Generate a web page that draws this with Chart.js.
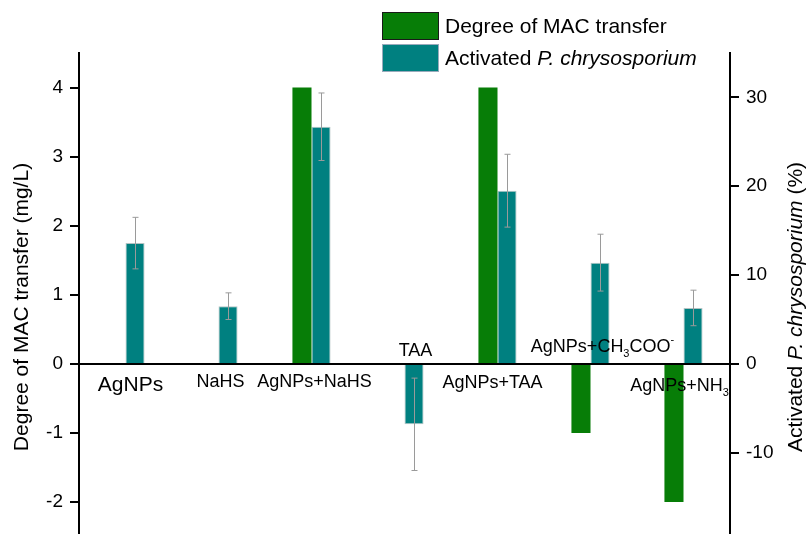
<!DOCTYPE html>
<html>
<head>
<meta charset="utf-8">
<script src="https://cdn.jsdelivr.net/npm/chart.js@4.4.1/dist/chart.umd.min.js"></script>
<style>
  html, body { margin: 0; padding: 0; background: #fff; overflow: hidden; }
  #wrap { width: 808px; height: 534px; overflow: hidden; }
</style>
</head>
<body>
<div id="wrap"><canvas id="myChart" width="808" height="555"></canvas></div>
<script>
// categories (_x = subscript, ^x = superscript)
const categories = ['AgNPs', 'NaHS', 'AgNPs+NaHS', 'TAA', 'AgNPs+TAA', 'AgNPs+CH_3COO^-', 'AgNPs+NH_3'];
// Degree of MAC transfer (mg/L), left axis
const macTransfer = [0, 0, 4.0, 0, 4.0, -1.0, -2.0];
// Activated P. chrysosporium (%), right axis
const activated = [13.6, 6.5, 26.7, -6.8, 19.5, 11.4, 6.3];
const activatedErr = [2.9, 1.5, 3.8, 5.2, 4.1, 3.2, 2.0];
const leftTicks = [-2, -1, 0, 1, 2, 3, 4];
const rightTicks = [-10, 0, 10, 20, 30];

const FONT = '"Liberation Sans", Arial, sans-serif';
const green = '#077d07';
const teal = '#008080';

// where each category label sits relative to its group (px) : above/below zero line
const labelPlace = [
  { dx: 5, dy: 21, size: 21 },
  { dx: 2, dy: 18, size: 18 },
  { dx: 3, dy: 18, size: 18 },
  { dx: 11, dy: -13, size: 18 },
  { dx: -5, dy: 19, size: 18 },
  { dx: 12, dy: -17, size: 18 },
  { dx: -4, dy: 22, size: 18 }
];

// split "CH_3COO^-" into runs
function parseRuns(str) {
  const runs = [];
  let i = 0, buf = '';
  while (i < str.length) {
    const c = str[i];
    if ((c === '_' || c === '^') && i + 1 < str.length) {
      if (buf) runs.push({ t: buf, k: 'n' });
      buf = '';
      runs.push({ t: str[i + 1], k: c === '_' ? 'sub' : 'sup' });
      i += 2;
    } else { buf += c; i++; }
  }
  if (buf) runs.push({ t: buf, k: 'n' });
  return runs;
}

function drawRich(ctx, str, cx, cy, size) {
  const runs = parseRuns(str);
  const small = Math.round(size * 0.6);
  let w = 0;
  runs.forEach(r => {
    ctx.font = (r.k === 'n' ? size : small) + 'px ' + FONT;
    r.w = ctx.measureText(r.t).width;
    w += r.w;
  });
  let x = cx - w / 2;
  ctx.textBaseline = 'middle';
  ctx.textAlign = 'left';
  runs.forEach(r => {
    ctx.font = (r.k === 'n' ? size : small) + 'px ' + FONT;
    let y = cy;
    if (r.k === 'sub') y = cy + size * 0.4;
    if (r.k === 'sup') y = cy - size * 0.4;
    ctx.fillText(r.t, x, y);
    x += r.w;
  });
}

// mixed normal / italic text
function drawParts(ctx, parts, x, y, size, align) {
  let w = 0;
  parts.forEach(p => {
    ctx.font = (p.i ? 'italic ' : '') + size + 'px ' + FONT;
    p.w = ctx.measureText(p.t).width;
    w += p.w;
  });
  let sx = align === 'center' ? x - w / 2 : x;
  ctx.textBaseline = 'middle';
  ctx.textAlign = 'left';
  parts.forEach(p => {
    ctx.font = (p.i ? 'italic ' : '') + size + 'px ' + FONT;
    ctx.fillText(p.t, sx, y);
    sx += p.w;
  });
}

const extras = {
  id: 'extras',
  afterDatasetsDraw(chart) {
    const ctx = chart.ctx;
    const xs = chart.scales.x;
    const y = chart.scales.y;
    const y1 = chart.scales.y1;
    const area = chart.chartArea;

    // error bars on the teal series
    const meta = chart.getDatasetMeta(1);
    ctx.save();
    ctx.strokeStyle = '#9a9a9a';
    ctx.lineWidth = 1;
    meta.data.forEach((bar, i) => {
      const v = activated[i], e = activatedErr[i];
      const top = y1.getPixelForValue(v + e);
      const bot = y1.getPixelForValue(v - e);
      const bx = Math.round(bar.x) + 0.5;
      ctx.beginPath();
      ctx.moveTo(bx, top); ctx.lineTo(bx, bot);
      ctx.moveTo(bx - 3, top); ctx.lineTo(bx + 3, top);
      ctx.moveTo(bx - 3, bot); ctx.lineTo(bx + 3, bot);
      ctx.stroke();
    });
    ctx.restore();

    // zero line
    const y0 = y.getPixelForValue(0);
    ctx.save();
    ctx.strokeStyle = '#000';
    ctx.lineWidth = 2;
    ctx.beginPath();
    ctx.moveTo(area.left, y0); ctx.lineTo(area.right, y0);
    ctx.stroke();

    // category labels
    ctx.fillStyle = '#000';
    categories.forEach((c, i) => {
      const p = labelPlace[i];
      drawRich(ctx, c, xs.getPixelForValue(i) + p.dx, y0 + p.dy, p.size);
    });

    // legend
    const lx = 382, bw = 57, bh = 28;
    const items = [
      { color: green, border: '#1a1a1a', y: 12, parts: [{ t: chart.data.datasets[0].label }] },
      { color: teal, border: '#9ab', y: 44, parts: [{ t: 'Activated ' }, { t: 'P. chrysosporium', i: true }] }
    ];
    items.forEach(it => {
      ctx.fillStyle = it.color;
      ctx.fillRect(lx, it.y, bw, bh);
      ctx.strokeStyle = it.border;
      ctx.lineWidth = 1;
      ctx.strokeRect(lx + 0.5, it.y + 0.5, bw - 1, bh - 1);
      ctx.fillStyle = '#000';
      drawParts(ctx, it.parts, lx + bw + 6, it.y + bh / 2 + 1, 21, 'left');
    });

    // axis titles, both reading bottom-to-top
    ctx.save();
    ctx.translate(22, 307);
    ctx.rotate(-Math.PI / 2);
    drawParts(ctx, [{ t: 'Degree of MAC transfer (mg/L)' }], 0, 0, 21, 'center');
    ctx.restore();
    ctx.save();
    ctx.translate(796, 307);
    ctx.rotate(-Math.PI / 2);
    drawParts(ctx, [{ t: 'Activated ' }, { t: 'P. chrysosporium', i: true }, { t: ' (%)' }], 0, 0, 21, 'center');
    ctx.restore();
    ctx.restore();
  }
};

const ctx = document.getElementById('myChart');
new Chart(ctx, {
  type: 'bar',
  data: {
    labels: categories,
    datasets: [
      {
        label: 'Degree of MAC transfer',
        data: macTransfer,
        backgroundColor: green,
        borderWidth: 0,
        yAxisID: 'y',
        categoryPercentage: 0.41,
        barPercentage: 1.0
      },
      {
        label: 'Activated P. chrysosporium',
        data: activated,
        backgroundColor: teal,
        borderColor: 'rgba(160,180,180,0.8)',
        borderWidth: 1,
        yAxisID: 'y1',
        categoryPercentage: 0.41,
        barPercentage: 1.0
      }
    ]
  },
  options: {
    responsive: false,
    animation: false,
    layout: { padding: { top: 53, bottom: 0, left: 0, right: 0 } },
    plugins: {
      legend: { display: false },
      tooltip: { enabled: false }
    },
    scales: {
      x: {
        display: false,
        offset: true
      },
      y: {
        position: 'left',
        min: -2.5,
        max: 4.5,
        afterBuildTicks: s => { s.ticks = leftTicks.map(v => ({ value: v })); },
        afterFit: s => { s.width = 79; },
        border: { display: true, color: '#000', width: 2 },
        grid: { drawOnChartArea: false, drawTicks: true, tickLength: 9, color: '#000', lineWidth: 2 },
        ticks: { color: '#000', padding: 7, font: { family: FONT, size: 19 } }
      },
      y1: {
        position: 'right',
        min: -19.44,
        max: 35,
        afterBuildTicks: s => { s.ticks = rightTicks.map(v => ({ value: v })); },
        afterFit: s => { s.width = 78; },
        border: { display: true, color: '#000', width: 2 },
        grid: { drawOnChartArea: false, drawTicks: true, tickLength: 9, color: '#000', lineWidth: 2 },
        ticks: { color: '#000', padding: 7, font: { family: FONT, size: 19 } }
      }
    }
  },
  plugins: [extras]
});
</script>
</body>
</html>
